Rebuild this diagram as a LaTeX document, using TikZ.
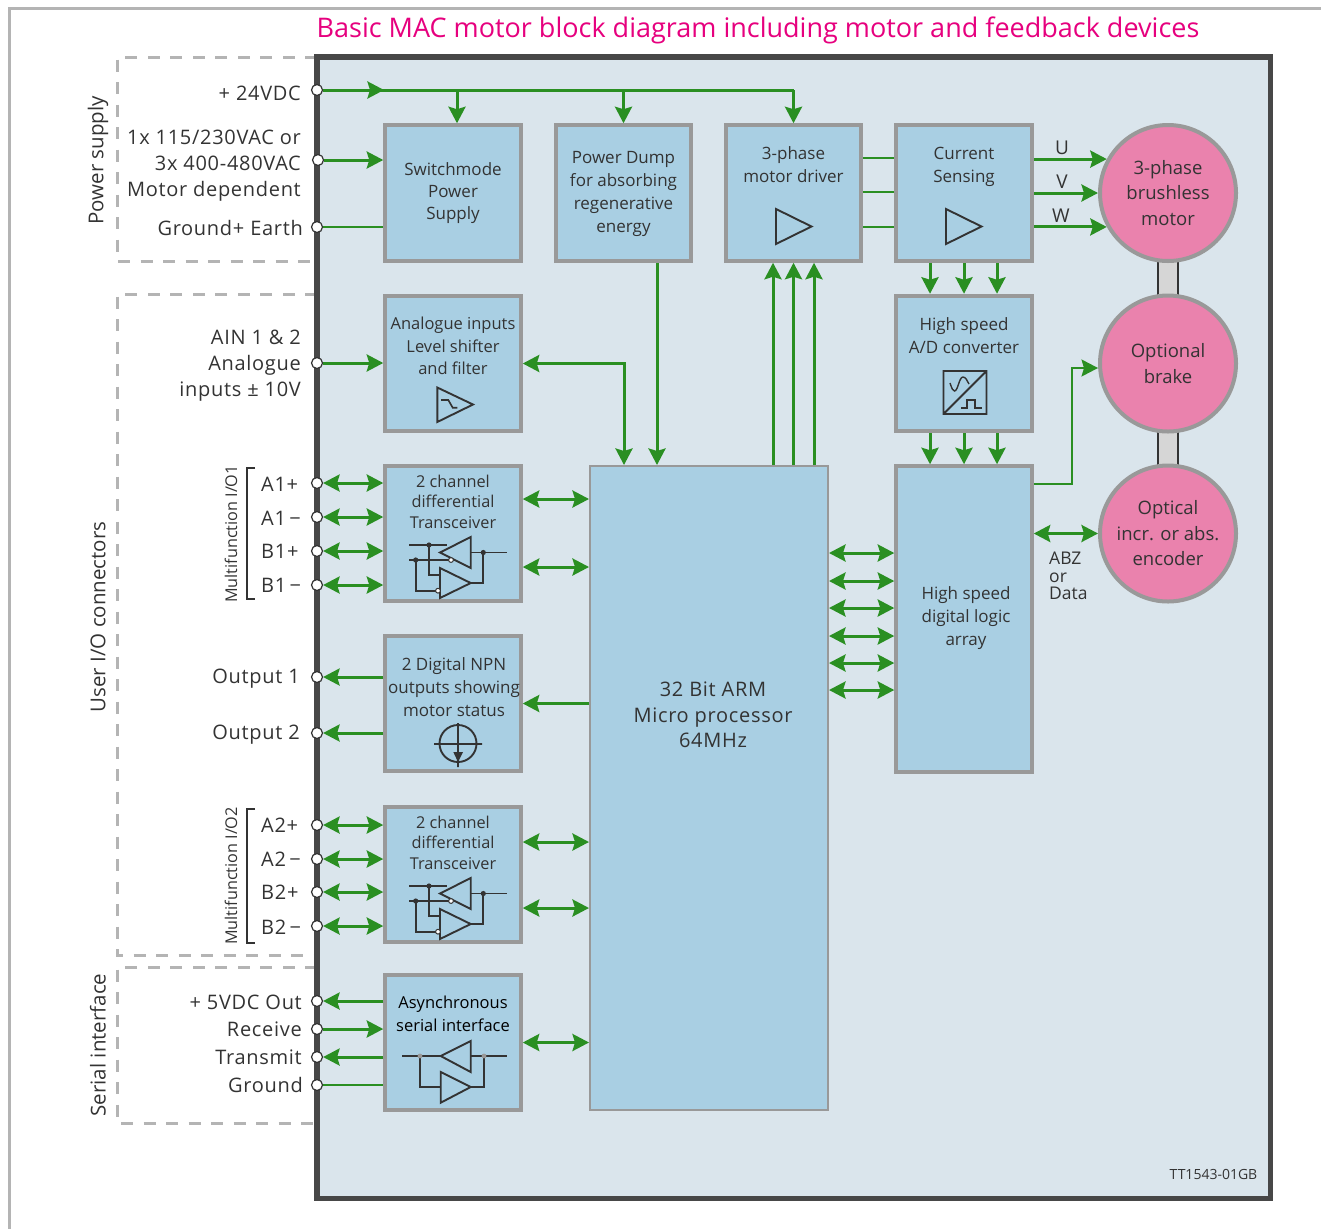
\documentclass[tikz,border=0pt]{standalone}
\usepackage{fontspec}
\setmainfont{Open Sans}
\newfontfamily\spaced[LetterSpace=3.5]{Open Sans}
\usepackage{tikz}
\usetikzlibrary{arrows.meta,calc,positioning}
\definecolor{panelbg}{HTML}{DAE5EC}
\definecolor{boxbg}{HTML}{A9CFE3}
\definecolor{boxline}{HTML}{999999}
\definecolor{wire}{HTML}{2A8F22}
\definecolor{ink}{HTML}{333333}
\definecolor{pinkbg}{HTML}{EA82AD}
\definecolor{titlepink}{HTML}{E6007E}
\definecolor{framegray}{HTML}{B4B4B4}
\tikzset{
	blockbox/.style={draw=boxline,fill=boxbg,line width=4pt,minimum width=135.5pt,minimum height=135.5pt,inner sep=0pt},
	blocktext/.style={text=ink,align=center,font=\fontsize{17}{23}\selectfont},
	wheel/.style={circle,draw=boxline,fill=pinkbg,line width=4pt,minimum size=136pt,inner sep=0pt,text=ink,font=\fontsize{18.5}{25.5}\selectfont,align=center},
	port/.style={circle,draw=ink,fill=white,line width=1.2pt,minimum size=11pt,inner sep=0pt},
	pinlabel/.style={anchor=east,inner sep=0pt,text=ink,font=\spaced\fontsize{20}{26}\selectfont,align=right},
	wirelabel/.style={text=ink,font=\fontsize{19}{19}\selectfont},
	grouplabel/.style={rotate=90,text=ink,font=\fontsize{20.5}{20.5}\selectfont},
	sidelabel/.style={rotate=90,text=ink,font=\fontsize{16.2}{16.2}\selectfont},
	group/.style={draw=framegray,line width=3pt,dash pattern=on 12pt off 10.5pt},
	gw/.style={draw=wire,line width=3pt},
	to/.style={gw,-{Stealth[length=16.5pt,width=17pt,inset=2.5pt]}},
	bi/.style={gw,{Stealth[length=16.5pt,width=17pt,inset=2.5pt]}-{Stealth[length=16.5pt,width=17pt,inset=2.5pt]}},
	sym/.style={draw=ink,line width=1.9pt,line join=miter},
	xcvr/.pic={
		\draw[sym,fill=boxbg] (440,552.5) -- (470.7,537) -- (470.7,568) -- cycle;
		\draw[sym,fill=boxbg] (440,568) -- (470.7,583) -- (440,598) -- cycle;
		\draw[sym] (409,545) -- (447,545);
		\draw[sym] (429,545) |- (440,575);
		\draw[sym] (409,560) -- (449,560);
		\draw[sym] (415.7,560) |- (436,590.7);
		\draw[sym] (470.7,552.5) -- (506.7,552.5);
		\draw[sym] (483.3,552.5) |- (470.7,583);
		\fill[ink] (429,545) circle (2.6pt) (415.7,560) circle (2.6pt) (483.3,552.5) circle (2.6pt);
		\draw[draw=ink,fill=white,line width=1pt] (451,560) circle (2.4pt) (438,590.7) circle (2.4pt);
	}
}
\begin{document}
\begin{tikzpicture}[x=1pt,y=-1pt]
	\useasboundingbox (0,0) rectangle (1321,1229);
	\draw[framegray,line width=3pt] (1321,8) -- (9,8) -- (9,1229);
	\node[text=titlepink,font=\fontsize{27}{27}\selectfont] (title) at (758,30) {Basic MAC motor block diagram including motor and feedback devices};

	% groups outside the panel
	\draw[group] (317,57) -- (117,57) -- (117,261) -- (317,261);
	\draw[group] (317,294) -- (117,294) -- (117,955) -- (317,955);
	\draw[group] (317,967) -- (117,967) -- (117,1123) -- (317,1123);
	\node[grouplabel] (gpower) at (98,160.5) {Power supply};
	\node[grouplabel] (gio) at (98,617) {User I/O connectors};
	\node[grouplabel] (gserial) at (98,1045) {Serial interface};

	\draw[draw=ink!90,line width=5.5pt,fill=panelbg] (317,57) rectangle (1270.5,1198.5);

	% blocks
	\node[blockbox] (smps) at (453,193) {};
	\node[blockbox] (dump) at (623.5,193) {};
	\node[blockbox] (drv) at (793.5,193) {};
	\node[blockbox] (cur) at (964,193) {};
	\node[blockbox] (ain) at (453,363.5) {};
	\node[blockbox] (ad) at (964,363.5) {};
	\node[blockbox] (xa) at (453,533.5) {};
	\node[blockbox] (npn) at (453,703.5) {};
	\node[blockbox] (xb) at (453,874.5) {};
	\node[blockbox] (uart) at (453,1042.5) {};
	\node[blockbox,minimum height=305.5pt] (logic) at (964,619) {};
	\node[blockbox,line width=2pt,minimum width=238pt,minimum height=644pt] (cpu) at (709,788) {};

	% block texts
	\node[blocktext,font=\fontsize{17}{22}\selectfont] (tsmps) at (453,193) {Switchmode\\Power\\Supply};
	\node[blocktext] (tdump) at (623.5,194) {Power Dump\\for absorbing\\regenerative\\energy};
	\node[blocktext] (tdrv) at (793.5,164.5) {3-phase\\motor driver};
	\node[blocktext] (tcur) at (964,167) {Current\\Sensing};
	\node[blocktext,font=\fontsize{16.5}{22.5}\selectfont] (tain) at (453,346) {Analogue inputs\\Level shifter\\and filter};
	\node[blocktext] (tad) at (964,335.5) {High speed\\A/D converter};
	\node[blocktext,font=\fontsize{16.3}{20.5}\selectfont] (txa) at (453,501.5) {2 channel\\differential\\Transceiver};
	\node[blocktext] (tnpn) at (454,687) {2 Digital NPN\\outputs showing\\motor status};
	\node[blocktext,font=\fontsize{16.3}{20.5}\selectfont] (txb) at (453,842.5) {2 channel\\differential\\Transceiver};
	\node[blocktext,text=black,font=\fontsize{16.5}{23}\selectfont] (tuart) at (453,1013.5) {Asynchronous\\serial interface};
	\node[blocktext] (tlogic) at (966,618) {High speed\\digital logic\\array};
	\node[blocktext,font=\spaced\fontsize{20}{25.5}\selectfont] (tcpu) at (713,715) {32 Bit ARM\\Micro processor\\64MHz};

	% shafts and motor parts
	\fill[black!16] (1158,193) rectangle (1178,533);
	\draw[ink,line width=2pt] (1158,193) -- (1158,533) (1178,193) -- (1178,533);
	\node[wheel] (motor) at (1168,193) {3-phase\\brushless\\motor};
	\node[wheel] (brake) at (1168,363.5) {Optional\\brake};
	\node[wheel] (enc) at (1168,533.5) {Optical\\incr. or abs.\\encoder};

	% ports
	\node[port] (p24) at (317,90) {};
	\node[port] (pac) at (318,160) {};
	\node[port] (pgnd) at (317,227) {};
	\node[port] (pain) at (317,363) {};
	\node[port] (pa1) at (317,483) {};
	\node[port] (pa2) at (317,517) {};
	\node[port] (pa3) at (317,551) {};
	\node[port] (pa4) at (317,585) {};
	\node[port] (po1) at (317,677) {};
	\node[port] (po2) at (317,733) {};
	\node[port] (pb1) at (317,825) {};
	\node[port] (pb2) at (317,859) {};
	\node[port] (pb3) at (317,892) {};
	\node[port] (pb4) at (317,926) {};
	\node[port] (ps1) at (317,1001) {};
	\node[port] (ps2) at (317,1029) {};
	\node[port] (ps3) at (317,1057) {};
	\node[port] (ps4) at (317,1085) {};

	% pin texts
	\node[pinlabel] (l24) at (301,93) {+ 24VDC};
	\node[pinlabel] (lac) at (301,166) {1x 115/230VAC or\\3x 400-480VAC\\Motor dependent};
	\node[pinlabel] (lgnd) at (303,228) {Ground+ Earth};
	\node[pinlabel] (lain) at (301,366) {AIN 1 \& 2\\Analogue\\inputs ± 10V};
	\node[pinlabel,anchor=west] (la1) at (261,484) {A1+};
	\node[pinlabel,anchor=west] (la2) at (261,518) {A1\,−};
	\node[pinlabel,anchor=west] (la3) at (261,551) {B1+};
	\node[pinlabel,anchor=west] (la4) at (261,585) {B1\,−};
	\node[pinlabel] (lo1) at (300,679) {Output 1};
	\node[pinlabel] (lo2) at (300,735) {Output 2};
	\node[pinlabel,anchor=west] (lb1) at (261,825) {A2+};
	\node[pinlabel,anchor=west] (lb2) at (261,859) {A2\,−};
	\node[pinlabel,anchor=west] (lb3) at (261,892) {B2+};
	\node[pinlabel,anchor=west] (lb4) at (261,927) {B2\,−};
	\node[pinlabel] (ls1) at (302,1002) {+ 5VDC Out};
	\node[pinlabel] (ls2) at (302,1029) {Receive};
	\node[pinlabel] (ls3) at (302,1057) {Transmit};
	\node[pinlabel] (ls4) at (303,1085) {Ground};
	\node[sidelabel] (mf1) at (231,534) {Multifunction I/O1};
	\node[sidelabel] (mf2) at (231,876) {Multifunction I/O2};
	\draw[ink,line width=1.8pt] (255,468) -- (247,468) -- (247,599) -- (255,599);
	\draw[ink,line width=1.8pt] (255,809) -- (247,809) -- (247,943) -- (255,943);

	% supply wires
	\coordinate (j1) at (457,90);
	\draw[gw] (p24) -- (drv.north |- p24);
	\draw[to] (p24) -- (384,90);
	\draw[to] (j1) -- (j1 |- smps.north);
	\draw[to] (dump.north |- p24) -- (dump.north);
	\draw[to] (drv.north |- p24) -- (drv.north);
	\draw[to] (pac) -- (pac -| smps.west);
	\draw[gw,line width=2pt] (pgnd) -- (pgnd -| smps.west);

	% driver and sensing
	\foreach \yy in {158,192,227} {
		\draw[gw,line width=2pt] (drv.east |- 0,\yy) -- (cur.west |- 0,\yy);
	}
	\draw[to] (cur.east |- motor.151) -- (motor.151);
	\draw[to] (cur.east |- motor.west) -- (motor.west);
	\draw[to] (cur.east |- motor.209) -- (motor.209);
	\node[wirelabel] (lu) at (1062,148) {U};
	\node[wirelabel] (lv) at (1062,182) {V};
	\node[wirelabel] (lw) at (1061,216) {W};
	\foreach \xx in {930,964,997} {
		\draw[to] (cur.south -| \xx,0) -- (ad.north -| \xx,0);
		\draw[to] (ad.south -| \xx,0) -- (logic.north -| \xx,0);
	}
	\foreach \xx in {773,793.5,814} {
		\draw[to] (cpu.north -| \xx,0) -- (drv.south -| \xx,0);
	}
	\draw[to] (dump.south -| 657,0) -- (cpu.north -| 657,0);
	\draw[bi] (ain.east) -| (cpu.north -| 624,0);
	\draw[to] (pain) -- (ain.west |- pain);

	% io wires
	\foreach \pp in {pa1,pa2,pa3,pa4} { \draw[bi] (\pp) -- (xa.west |- \pp); }
	\foreach \pp in {pb1,pb2,pb3,pb4} { \draw[bi] (\pp) -- (xb.west |- \pp); }
	\foreach \yy in {499,567} { \draw[bi] (xa.east |- 0,\yy) -- (cpu.west |- 0,\yy); }
	\foreach \yy in {842,908} { \draw[bi] (xb.east |- 0,\yy) -- (cpu.west |- 0,\yy); }
	\draw[to] (npn.west |- po1) -- (po1);
	\draw[to] (npn.west |- po2) -- (po2);
	\draw[to] (cpu.west |- npn.east) -- (npn.east);
	\draw[to] (uart.west |- ps1) -- (ps1);
	\draw[to] (ps2) -- (uart.west |- ps2);
	\draw[to] (uart.west |- ps3) -- (ps3);
	\draw[gw,line width=2pt] (ps4) -- (uart.west |- ps4);
	\draw[bi] (uart.east) -- (cpu.west |- uart.east);

	% logic wires
	\foreach \yy in {553,581,608,636,663,690} {
		\draw[bi] (cpu.east |- 0,\yy) -- (logic.west |- 0,\yy);
	}
	\draw[to,line width=2pt] (logic.east |- 0,484) -| (1072,368) -- (brake.west |- 0,368);
	\draw[bi] (logic.east |- enc.west) -- (enc.west);
	\node[text=ink,font=\fontsize{17.5}{17.5}\selectfont,align=left,anchor=west,inner sep=0pt] (labz) at (1049,576) {ABZ\\or\\Data};
	\node[text=ink,font=\fontsize{14}{14}\selectfont] (tag) at (1213.5,1174) {TT1543-01GB};

	% block symbols
	\draw[sym] (776,209) -- (811.5,226.5) -- (776,244) -- cycle;
	\draw[sym] (946,209) -- (981.5,226.5) -- (946,244) -- cycle;
	\draw[sym] (437.3,387.5) -- (473,404.5) -- (437.3,422) -- cycle;
	\draw[sym,line width=1.6pt] (441,400) -- (448.3,400) -- (452.7,407.7) -- (457.3,407.7);
	\draw[sym] (943.5,371) rectangle (986.5,414) (943.5,414) -- (986.5,371);
	\draw[sym,line width=1.4pt] (950,383) .. controls (952,389) and (953,391) .. (954.5,391) .. controls (958,391) and (959,377) .. (963,377) .. controls (966,377) and (967,381) .. (969,384);
	\draw[sym,line width=1.6pt] (961,408) -- (967,408) -- (967,400) -- (975,400) -- (975,408) -- (982,408);
	\pic at (0,0) {xcvr};
	\pic at (0,341) {xcvr};
	\draw[sym] (458,743.5) circle (18.5pt) (434,744) -- (482,744) (458,723) -- (458,767);
	\fill[ink] (453.3,752) -- (463,752) -- (458,762) -- cycle;
	\draw[sym,fill=boxbg] (440.7,1056) -- (470.7,1041) -- (470.7,1072) -- cycle;
	\draw[sym,fill=boxbg] (440.7,1072) -- (470.7,1087) -- (440.7,1102.7) -- cycle;
	\draw[sym] (402,1056) -- (440.7,1056) (470.7,1056) -- (506.7,1056);
	\draw[sym] (420,1056) |- (440.7,1087);
	\draw[sym] (484,1056) |- (470.7,1087);
	\fill[boxline] (420,1056) circle (2.4pt) (484,1056) circle (2.4pt);
\end{tikzpicture}
\end{document}
